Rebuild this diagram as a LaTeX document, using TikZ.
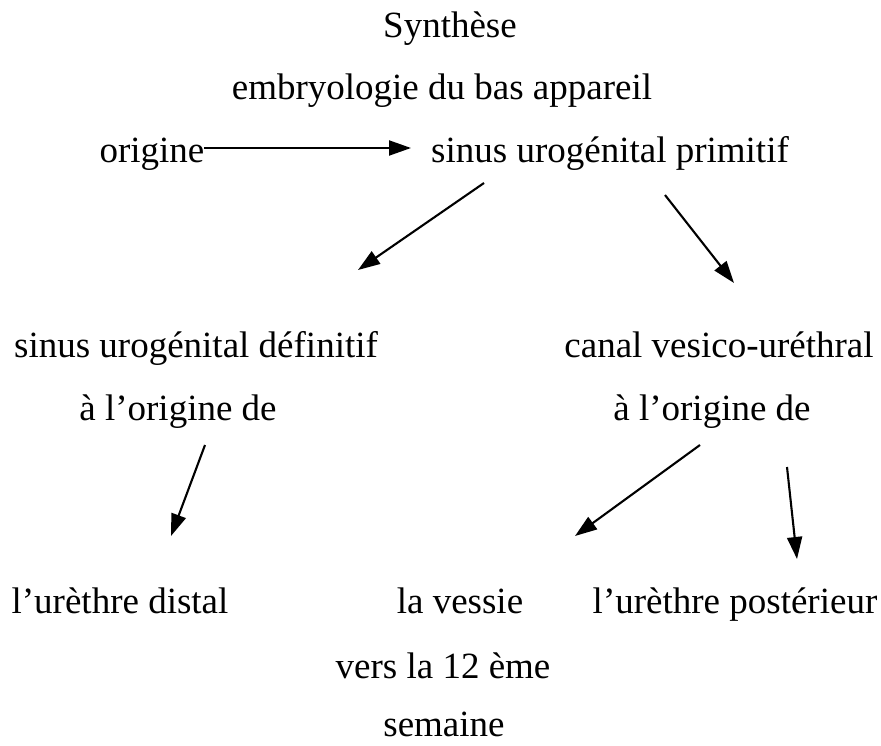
\documentclass[tikz,border=0pt]{standalone}
\usepackage{fontspec}
\setmainfont{Liberation Serif}
\usetikzlibrary{arrows.meta}
\begin{document}
\begin{tikzpicture}[x=1pt,y=-1pt,
  lbl/.style={anchor=base,inner sep=0pt,font=\fontsize{37}{42}\selectfont},
  arr/.style={line width=2.1pt,-{Triangle[length=22pt,width=15pt]}}]
\useasboundingbox (0,0) rectangle (881,746);
\node[lbl] (syn) at (450,38) {Synthèse};
\node[lbl] (emb) at (442,100) {embryologie du bas appareil};
\node[lbl] (ori) at (152,163) {origine};
\node[lbl] (sup) at (610,163) {sinus urogénital primitif};
\node[lbl] (sud) at (196,357) {sinus urogénital définitif};
\node[lbl] (cvu) at (719,357) {canal vesico-uréthral};
\node[lbl] (ol) at (178,420) {à l’origine de};
\node[lbl] (or) at (712,420) {à l’origine de};
\node[lbl] (ud) at (120,613) {l’urèthre distal};
\node[lbl] (ves) at (460,613) {la vessie};
\node[lbl] (up) at (735,613) {l’urèthre postérieur};
\node[lbl] (v12) at (443,678) {vers la 12 ème};
\node[lbl] (sem) at (444,736) {semaine};
\coordinate (a1s) at (204,148); \coordinate (a1e) at (411,148);
\coordinate (a2s) at (484,183); \coordinate (a2e) at (358,270);
\coordinate (a3s) at (665,195); \coordinate (a3e) at (734,283);
\coordinate (a4s) at (205,445); \coordinate (a4e) at (171,536);
\coordinate (a5s) at (700,445); \coordinate (a5e) at (575,536);
\coordinate (a6s) at (787,467); \coordinate (a6e) at (797,559);
\draw[arr] (a1s) -- (a1e);
\draw[arr] (a2s) -- (a2e);
\draw[arr] (a3s) -- (a3e);
\draw[arr] (a4s) -- (a4e);
\draw[arr] (a5s) -- (a5e);
\draw[arr] (a6s) -- (a6e);
\end{tikzpicture}
\end{document}
